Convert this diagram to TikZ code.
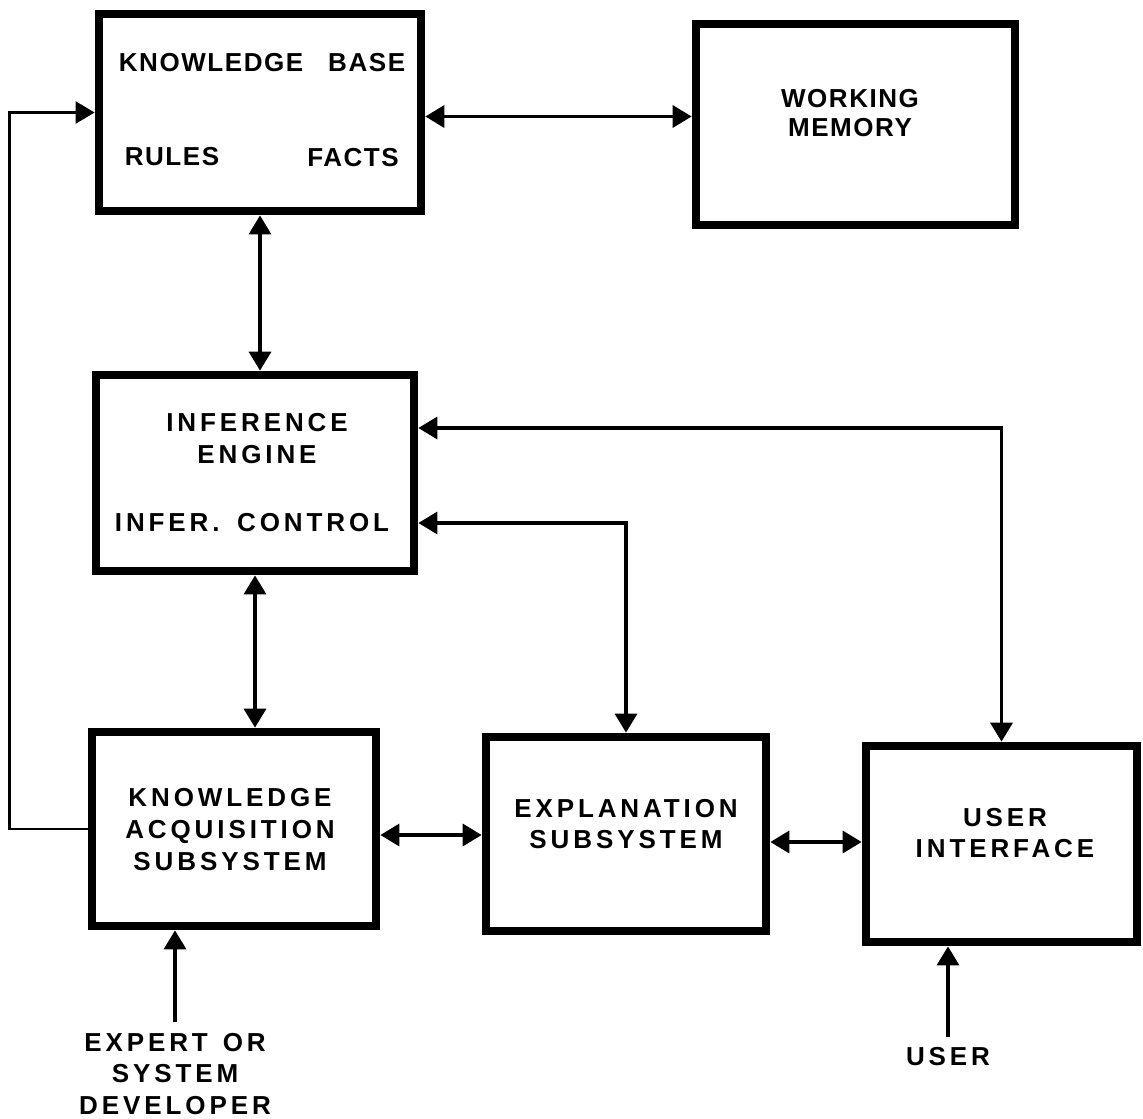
\documentclass[tikz,border=0pt]{standalone}
\usepackage{fontspec}
\setmainfont{Liberation Sans}
\newfontfamily\widefont{Liberation Sans}[LetterSpace=15]
\newfontfamily\tightfont{Liberation Sans}[LetterSpace=6]
\usetikzlibrary{arrows.meta,positioning}

\begin{document}
\begin{tikzpicture}[x=0.02cm, y=-0.02cm,
  every node/.style={align=center, font=\widefont\bfseries\fontsize{14.8}{18}\selectfont},
  tight/.style={font=\tightfont\bfseries\fontsize{14.8}{17}\selectfont},
  block/.style={draw, line width=5pt, inner sep=0pt},
  link/.style={line width=2pt,
               {Triangle[length=0.38cm,width=0.44cm]}-{Triangle[length=0.38cm,width=0.44cm]}},
  inlink/.style={line width=2pt, -{Triangle[length=0.38cm,width=0.44cm]}},
  feed/.style={line width=1.3pt, -{Triangle[length=0.38cm,width=0.44cm]}},
  outer/.style={inner xsep=2pt, inner ysep=6pt},
]
\fill[white] (0,0) rectangle (1143,1119);
\useasboundingbox (0,0) rectangle (1143,1119);

% Boxes
\node[block, minimum width=6.44cm, minimum height=3.94cm] (kb) at (260,112.5) {};
\node[block, minimum width=6.38cm, minimum height=4.02cm] (wm) at (855.5,124.5) {};
\node[block, minimum width=6.36cm, minimum height=3.92cm] (ie) at (255,473) {};
\node[block, minimum width=5.68cm, minimum height=3.88cm] (ka) at (234,829) {};
\node[block, minimum width=5.6cm, minimum height=3.88cm] (ex) at (626,834) {};
\node[block, minimum width=5.42cm, minimum height=3.92cm] (ui) at (1001.5,844) {};

% Box texts
\node[tight] (kbtitle) at (262,63) {KNOWLEDGE\hspace{0.5cm}BASE};
\node[tight] (kbrules) at (172,157) {RULES};
\node[tight] (kbfacts) at (353,158) {FACTS};
\node[tight] (wmtext) at (850,113) {WORKING\\MEMORY};
\node (ietext) at (257,438.5) {INFERENCE\\ENGINE};
\node (iectrl) at (252,523) {INFER.\hspace{0.35cm}CONTROL};
\node (katext) at (230,829.5) {KNOWLEDGE\\ACQUISITION\\SUBSYSTEM};
\node (extext) at (626,824) {EXPLANATION\\SUBSYSTEM};
\node (uitext) at (1005,833) {USER\\INTERFACE};

% Outside sources
\node[outer] (expert) at (175,1074) {EXPERT\hspace{0.3cm}OR\\SYSTEM\\DEVELOPER};
\node[outer] (user) at (948,1057) {USER};

% Connectors
\draw[link] ([yshift=-0.08cm]kb.east) -- ([yshift=-0.08cm]kb.east -| wm.west);
\draw[link] (kb.south) -- (kb.south |- ie.north);
\draw[link] ([yshift=0.9cm]ie.east) -| (ui.north);
\draw[link] ([yshift=-1.0cm]ie.east) -| (ex.north);
\draw[link] (ie.south) -- (ie.south |- ka.north);
\draw[link] ([yshift=-0.12cm]ka.east) -- ([yshift=-0.12cm]ka.east -| ex.west);
\draw[link] ([yshift=-0.16cm]ex.east) -- ([yshift=-0.16cm]ex.east -| ui.west);
\draw[feed] (ka.west) -- ++(-78,0) |- (kb.west);
\draw[inlink] (expert.north) -- (expert.north |- ka.south);
\draw[inlink] (user.north) -- (user.north |- ui.south);

\end{tikzpicture}
\end{document}
